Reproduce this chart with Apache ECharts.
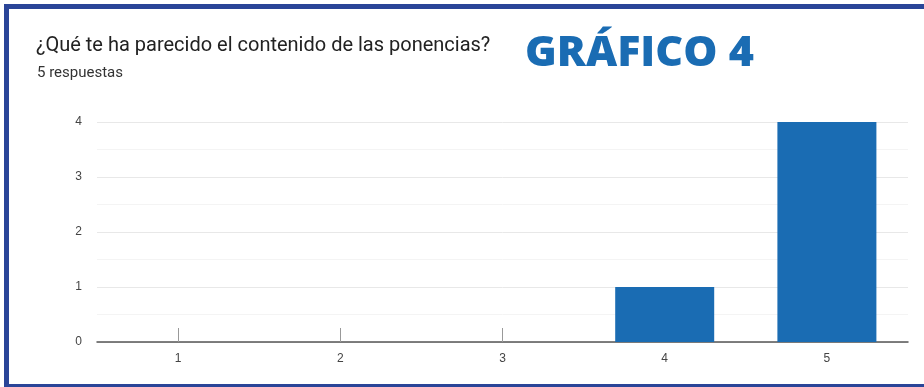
<!DOCTYPE html>
<html>
<head>
<meta charset="utf-8">
<script src="https://cdn.jsdelivr.net/npm/echarts@6/dist/echarts.min.js"></script>
<style>
  html, body { margin: 0; padding: 0; background: #ffffff; }
  #chart { width: 924px; height: 387px; }
</style>
</head>
<body>
<div id="chart"></div>
<script>
// Survey answers: rating (1-5) and number of responses
const categories = ['1', '2', '3', '4', '5'];
const counts = [0, 0, 0, 1, 4];
const yTicks = [0, 1, 2, 3, 4];

const question = '¿Qué te ha parecido el contenido de las ponencias?';
const subtitle = '5 respuestas';
const badge = 'GRÁFICO 4';

const frameColor = '#2a4598';
const barColor = '#1a6cb3';

const chart = echarts.init(document.getElementById('chart'), null, { renderer: 'canvas' });

chart.setOption({
  backgroundColor: '#ffffff',
  animation: false,
  title: [
    {
      text: question,
      left: 36, top: 36, padding: 0,
      textStyle: { fontFamily: 'Roboto', fontSize: 20, fontWeight: 'normal', color: '#222222' }
    },
    {
      text: subtitle,
      left: 37, top: 66, padding: 0,
      textStyle: { fontFamily: 'Roboto', fontSize: 15, fontWeight: 'normal', color: '#333333' }
    },
    {
      text: badge,
      left: 525, top: 32, padding: 0,
      textStyle: { fontFamily: 'Open Sans', fontSize: 43, fontWeight: 800, color: barColor }
    }
  ],
  graphic: [
    { type: 'rect', shape: { x: 4, y: 4, width: 920, height: 5 }, style: { fill: frameColor }, silent: true },
    { type: 'rect', shape: { x: 4, y: 4, width: 5, height: 383 }, style: { fill: frameColor }, silent: true },
    { type: 'rect', shape: { x: 4, y: 384, width: 920, height: 3 }, style: { fill: frameColor }, silent: true }
  ],
  grid: { left: 97, right: 16, top: 122, bottom: 45, containLabel: false },
  xAxis: {
    type: 'category',
    data: categories,
    axisLine: { lineStyle: { color: '#555555', width: 1.5 } },
    axisTick: { show: true, inside: true, alignWithLabel: true, length: 14, lineStyle: { color: '#999999' } },
    axisLabel: { color: '#444444', fontFamily: 'Arial', fontSize: 12, margin: 11 },
    splitLine: { show: false }
  },
  yAxis: {
    type: 'value',
    min: 0, max: 4, interval: 1,
    axisLine: { show: false },
    axisTick: { show: false },
    axisLabel: {
      color: '#444444', fontFamily: 'Arial', fontSize: 12, margin: 15,
      formatter: v => (yTicks.indexOf(v) >= 0 ? String(v) : '')
    },
    splitLine: { lineStyle: { color: '#e8e8e8', width: 1 } },
    minorTick: { show: false, splitNumber: 2 },
    minorSplitLine: { show: true, lineStyle: { color: '#f4f4f4', width: 1 } }
  },
  series: [{
    type: 'bar',
    data: counts,
    barWidth: 99,
    itemStyle: { color: barColor },
    silent: true
  }]
});
</script>
</body>
</html>
